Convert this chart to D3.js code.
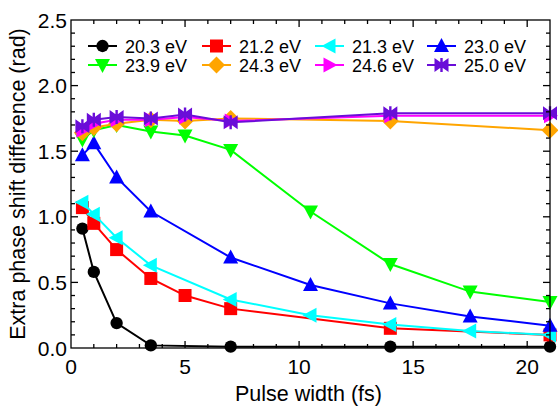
<!DOCTYPE html>
<html>
<head>
<meta charset="utf-8">
<script src="https://cdn.jsdelivr.net/npm/d3@7"></script>
<style>
  html, body { margin: 0; padding: 0; background: #fff; }
  svg { display: block; font-family: "Liberation Sans", Arial, sans-serif; }
</style>
</head>
<body>
<svg id="chart" width="558" height="408"></svg>
<script>
// Pulse widths (fs) at which each photon energy was evaluated
const xA = [0.5, 1, 2, 3.5, 7, 14, 21];
const xB = [0.5, 1, 2, 3.5, 5, 7, 14, 21];
const xC = [0.5, 1, 2, 3.5, 7, 10.5, 14, 17.5, 21];
const xD = [0.5, 1, 2, 3.5, 5, 7, 10.5, 14, 17.5, 21];

// Extra phase shift difference (rad) for each photon energy
const e203 = [0.91, 0.58, 0.19, 0.02, 0.01, 0.01, 0.01];
const e212 = [1.07, 0.95, 0.75, 0.53, 0.40, 0.30, 0.15, 0.10];
const e213 = [1.11, 1.02, 0.84, 0.63, 0.37, 0.25, 0.18, 0.13, 0.10];
const e230 = [1.47, 1.56, 1.30, 1.04, 0.69, 0.48, 0.34, 0.24, 0.17];
const e239 = [1.59, 1.66, 1.70, 1.65, 1.62, 1.51, 1.04, 0.64, 0.43, 0.35];
const e243 = [1.64, 1.68, 1.71, 1.74, 1.73, 1.75, 1.73, 1.66];
const e246 = [1.66, 1.71, 1.74, 1.74, 1.76, 1.73, 1.77, 1.77];
const e250 = [1.69, 1.74, 1.76, 1.75, 1.78, 1.72, 1.79, 1.79];

const labels = ["20.3 eV", "21.2 eV", "21.3 eV", "23.0 eV", "23.9 eV", "24.3 eV", "24.6 eV", "25.0 eV"];
const colors = ["#000000", "#ff0000", "#00ffff", "#0000ff", "#00ff00", "#ffa500", "#ff00ff", "#6a0dd8"];
const markers = ["circle", "square", "triLeft", "triUp", "triDown", "diamond", "triRight", "bowtie"];

const xTicks = [0, 5, 10, 15, 20];
const yTicks = [0, 0.5, 1.0, 1.5, 2.0, 2.5];

const seriesX = [xA, xB, xC, xC, xD, xB, xB, xB];
const seriesY = [e203, e212, e213, e230, e239, e243, e246, e250];

const series = labels.map((name, i) => ({
  name, color: colors[i], marker: markers[i],
  pts: seriesX[i].map((x, j) => ({ x, y: seriesY[i][j] }))
}));

const svg = d3.select("#chart");
const m = { left: 71, right: 8, top: 20, bottom: 60 };
const W = 558, H = 408;
const x = d3.scaleLinear().domain([0, 21]).range([m.left, W - m.right]);
const y = d3.scaleLinear().domain([0, 2.5]).range([H - m.bottom, m.top]);

// Marker path generators, centred at the origin
function markerPath(kind) {
  const s = 7;
  switch (kind) {
    case "circle": return d3.symbol(d3.symbolCircle, 120)();
    case "square": return `M${-6.5},${-6.5}H6.5V6.5H-6.5Z`;
    case "triUp": return `M0,${-s - 1}L${s + 0.5},${s - 1}L${-s - 0.5},${s - 1}Z`;
    case "triDown": return `M0,${s + 1}L${s + 0.5},${-s + 1}L${-s - 0.5},${-s + 1}Z`;
    case "triLeft": return `M${-s - 1},0L${s - 1},${-s - 0.5}L${s - 1},${s + 0.5}Z`;
    case "triRight": return `M${s + 1},0L${-s + 1},${-s - 0.5}L${-s + 1},${s + 0.5}Z`;
    case "diamond": return `M0,${-s - 1.5}L${s + 1.5},0L0,${s + 1.5}L${-s - 1.5},0Z`;
    case "bowtie": return `M${-s},${-s}L0,${-2}L${s},${-s}L${s},${s}L0,2L${-s},${s}Z M-1.2,${-s}H1.2V${s}H-1.2Z`;
  }
}

// Data lines and markers
const line = d3.line().x(d => x(d.x)).y(d => y(d.y));
const gData = svg.append("g");
series.forEach(s => {
  const g = gData.append("g");
  g.append("path").attr("d", line(s.pts)).attr("fill", "none")
    .attr("stroke", s.color).attr("stroke-width", 2);
  g.selectAll("path.mk").data(s.pts).join("path").attr("class", "mk")
    .attr("d", markerPath(s.marker))
    .attr("transform", d => `translate(${x(d.x)},${y(d.y)})`)
    .attr("fill", s.color);
});

// Frame with inward ticks on all four sides
const axisColor = "#000";
const gAx = svg.append("g").attr("stroke", axisColor).attr("stroke-width", 1.3);
gAx.append("rect").attr("x", x(0)).attr("y", y(2.5))
  .attr("width", x(21) - x(0)).attr("height", y(0) - y(2.5)).attr("fill", "none");

const xMinor = d3.range(1, 21);
const yMinor = d3.range(1, 25).map(v => v / 10);
const isXMajor = v => v % 5 === 0;
const isYMajor = v => Math.abs(v * 2 - Math.round(v * 2)) < 1e-6;

xMinor.forEach(v => {
  const len = isXMajor(v) ? 7 : 4;
  gAx.append("line").attr("x1", x(v)).attr("x2", x(v)).attr("y1", y(0)).attr("y2", y(0) - len);
  gAx.append("line").attr("x1", x(v)).attr("x2", x(v)).attr("y1", y(2.5)).attr("y2", y(2.5) + len);
});
yMinor.forEach(v => {
  const len = isYMajor(v) ? 7 : 4;
  gAx.append("line").attr("y1", y(v)).attr("y2", y(v)).attr("x1", x(0)).attr("x2", x(0) + len);
  gAx.append("line").attr("y1", y(v)).attr("y2", y(v)).attr("x1", x(21)).attr("x2", x(21) - len);
});

// Tick labels
svg.append("g").selectAll("text").data(xTicks).join("text")
  .attr("x", d => x(d)).attr("y", y(0) + 26)
  .attr("text-anchor", "middle").attr("font-size", 21).text(d => d);
svg.append("g").selectAll("text").data(yTicks).join("text")
  .attr("x", x(0) - 4).attr("y", d => y(d) + 7.5)
  .attr("text-anchor", "end").attr("font-size", 21).text(d => d.toFixed(1));

// Axis titles
svg.append("text").attr("x", (x(0) + x(21)) / 2 - 2).attr("y", 401)
  .attr("text-anchor", "middle").attr("font-size", 21.5).text("Pulse width (fs)");
svg.append("text").attr("transform", `translate(25,${(y(0) + y(2.5)) / 2}) rotate(-90)`)
  .attr("text-anchor", "middle").attr("font-size", 21.5).text("Extra phase shift difference (rad)");

// Legend: two rows of four entries
const legX = [88, 202, 315, 427];
const legY = [46, 65];
const gLeg = svg.append("g");
series.forEach((s, i) => {
  const cx = legX[i % 4], cy = legY[Math.floor(i / 4)];
  gLeg.append("line").attr("x1", cx).attr("x2", cx + 29).attr("y1", cy).attr("y2", cy)
    .attr("stroke", s.color).attr("stroke-width", 2);
  gLeg.append("path").attr("d", markerPath(s.marker))
    .attr("transform", `translate(${cx + 14.5},${cy})`).attr("fill", s.color);
  gLeg.append("text").attr("x", cx + 37).attr("y", cy + 6.5)
    .attr("font-size", 18).text(s.name);
});
</script>
</body>
</html>
